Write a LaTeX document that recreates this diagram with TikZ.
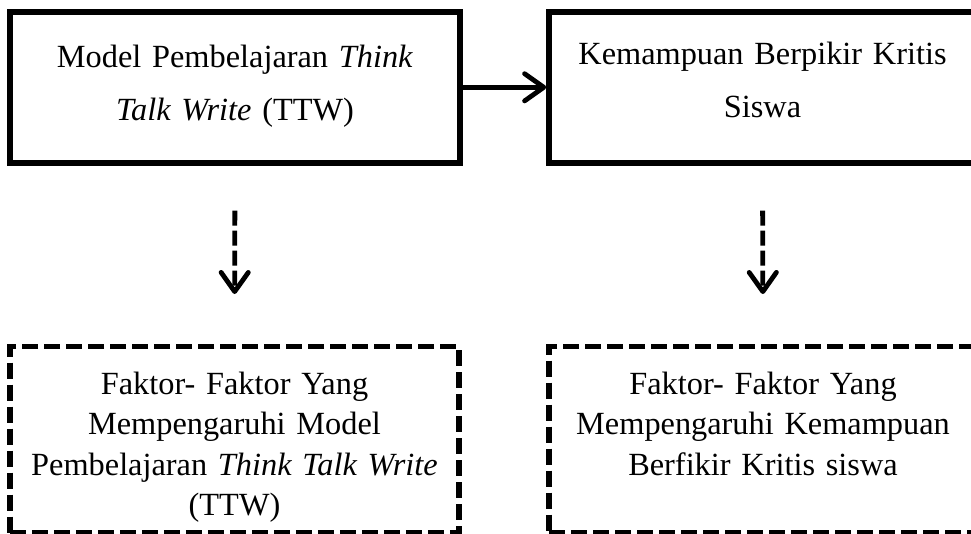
\documentclass[tikz,border=0pt]{standalone}
\usepackage{fontspec}
\setmainfont{Liberation Serif}
\usetikzlibrary{arrows.meta,positioning}
\newcommand{\teksatas}{\fontsize{23pt}{37.7pt}\selectfont}
\newcommand{\teksbawah}{\fontsize{23pt}{28.6pt}\selectfont}
\tikzset{
  kotak/.style={draw,line width=0.14cm,inner sep=0pt,align=center,anchor=north},
  kotakputus/.style={kotak,line width=0.13cm,dash pattern=on 0.4cm off 0.15cm},
  panah/.style={-{Straight Barb[length=0.48cm,width=0.68cm,round]},line width=0.12cm},
  panahputus/.style={panah,dash pattern=on 0.375cm off 0.125cm,
    shorten <=1.125cm,shorten >=1.25cm}
}

\begin{document}
\begin{tikzpicture}
 \useasboundingbox (0,0) rectangle (24.275,13.325);
 % baris atas
 \node[kotak,font=\teksatas,text width=11.25cm,
  text height=1.4cm,text depth=2.375cm] (model) at (5.875,13.1)
  {Model Pembelajaran \textit{Think}\\\textit{Talk Write} (TTW)};
 \node[kotak,font=\teksatas,text width=10.675cm,
  text height=1.325cm,text depth=2.45cm] (kemampuan) at (19.0625,13.1)
  {Kemampuan Berpikir Kritis\\Siswa};
 % baris bawah
 \node[kotakputus,font=\teksbawah,text width=11.225cm,
  text height=1.2cm,text depth=3.45cm] (faktormodel) at (5.8625,4.725)
  {Faktor- Faktor Yang\\Mempengaruhi Model\\Pembelajaran \textit{Think Talk Write}\\(TTW)};
 \node[kotakputus,font=\teksbawah,text width=10.7cm,
  text height=1.2cm,text depth=3.45cm] (faktorkemampuan) at (19.075,4.725)
  {Faktor- Faktor Yang\\Mempengaruhi Kemampuan\\Berfikir Kritis siswa};
 % panah
 \draw[panah] (model) -- (kemampuan);
 \draw[panahputus] (model.south) -- (faktormodel.north);
 \draw[panahputus] (kemampuan.south) -- (faktorkemampuan.north);
\end{tikzpicture}
\end{document}
